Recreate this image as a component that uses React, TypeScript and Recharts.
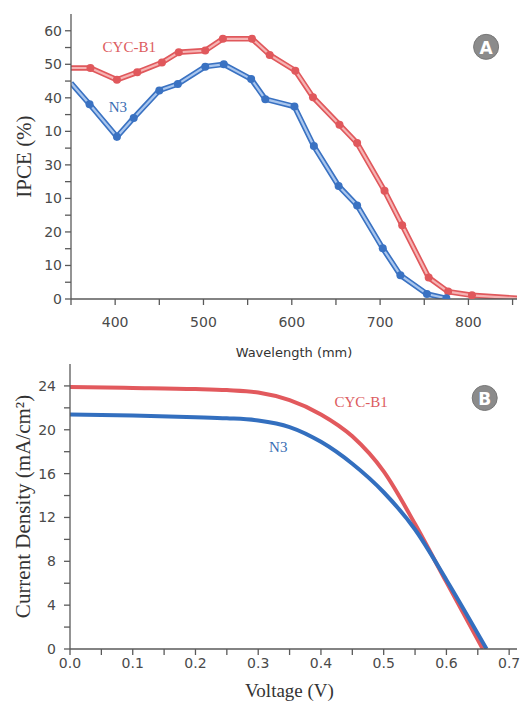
import React from 'react';
import { LineChart, Line, XAxis, YAxis, ReferenceDot, Label } from 'recharts';

// ---------- Panel A : IPCE ----------
const WL_CYC = [350, 372, 402, 425, 453, 472, 502, 522, 555, 575, 604, 624, 654, 674, 705, 725, 755, 777, 804, 855];
const IPCE_CYC = [68.9, 68.9, 65.4, 67.6, 70.5, 73.6, 74.1, 77.6, 77.6, 72.8, 68.1, 60.2, 52.0, 46.5, 32.3, 22.0, 6.4, 2.2, 1.1, 0.2];
const WL_N3 = [350, 371, 402, 421, 450, 471, 502, 523, 554, 570, 603, 625, 653, 674, 703, 723, 753, 775];
const IPCE_N3 = [64.4, 58.1, 48.4, 54.0, 62.2, 64.1, 69.3, 70.0, 65.6, 59.6, 57.4, 45.6, 33.7, 27.9, 15.1, 7.1, 1.5, 0.2];
const WL_TICKS = [350, 400, 450, 500, 550, 600, 650, 700, 750, 800, 850];
const WL_LABELED = [400, 500, 600, 700, 800];
const IPCE_TICKS = [0, 5, 10, 15, 20, 25, 30, 35, 40, 45, 50, 55, 60, 65, 70, 75, 80];
const IPCE_TICK_LABELS = ['0', '10', '20', '10', '30', '10', '40', '50', '60'];

// ---------- Panel B : J-V ----------
const V_CYC = [0, 0.1, 0.2, 0.25, 0.3, 0.35, 0.4, 0.45, 0.5, 0.55, 0.6, 0.658];
const J_CYC = [23.9, 23.82, 23.72, 23.62, 23.4, 22.7, 21.4, 19.4, 16.2, 11.4, 6.1, 0];
const V_N3 = [0, 0.1, 0.2, 0.25, 0.3, 0.35, 0.4, 0.45, 0.5, 0.55, 0.6, 0.664];
const J_N3 = [21.4, 21.3, 21.15, 21.05, 20.85, 20.25, 18.9, 16.9, 14.3, 10.9, 6.3, 0];
const V_TICKS = [0, 0.05, 0.1, 0.15, 0.2, 0.25, 0.3, 0.35, 0.4, 0.45, 0.5, 0.55, 0.6, 0.65, 0.7];
const J_TICKS = [0, 2, 4, 6, 8, 10, 12, 14, 16, 18, 20, 22, 24];

const zip = (xs: number[], ys: number[]) => xs.map((x, i) => ({ x, y: ys[i] }));
const dataCycA = zip(WL_CYC, IPCE_CYC);
const dataN3A = zip(WL_N3, IPCE_N3);
const dataCycB = zip(V_CYC, J_CYC);
const dataN3B = zip(V_N3, J_N3);

const AXIS = '#5a5a5a';
const TICK_FONT = { fill: '#4a4a4a', fontSize: 14, fontFamily: 'DejaVu Sans, sans-serif' };
const SERIF = 'Liberation Serif, Times New Roman, serif';

const RED_DARK = '#e0585c';
const RED_LIGHT = '#f6b4b4';
const BLUE_DARK = '#3a72c2';
const BLUE_LIGHT = '#a9c6ee';

const makeDot = (color: string) => (p: any) => {
  const x = p.payload ? p.payload.x : 0;
  if (x <= 350 || x >= 850) return <g key={`d${p.index}`} />;
  return <circle key={`d${p.index}`} cx={p.cx} cy={p.cy} r={4} fill={color} stroke="none" />;
};

const textShape = (txt: string, color: string, size: number) => (p: any) => (
  <text x={p.cx} y={p.cy} fill={color} fontSize={size} fontFamily={SERIF} textAnchor="middle" dominantBaseline="central">
    {txt}
  </text>
);

const badgeShape = (txt: string) => (p: any) => (
  <g>
    <circle cx={p.cx} cy={p.cy} r={12.5} fill="#8b8b8b" stroke="#777" strokeWidth={1} />
    <text x={p.cx} y={p.cy + 1} fill="#ffffff" fontSize={17} fontWeight="bold" fontFamily="DejaVu Sans, sans-serif" textAnchor="middle" dominantBaseline="central">
      {txt}
    </text>
  </g>
);

const xTitle = (txt: string, dy: number, font: string, size: number, dx = 0) => (props: any) => {
  const vb = props.viewBox || {};
  return (
    <text x={vb.x + vb.width / 2 + dx} y={vb.y + dy} fill="#333" fontSize={size} fontFamily={font} textAnchor="middle" dominantBaseline="central">
      {txt}
    </text>
  );
};

const yTitle = (txt: string, cx: number, size: number) => (props: any) => {
  const vb = props.viewBox || {};
  const cy = vb.y + vb.height / 2;
  return (
    <text x={cx} y={cy} transform={`rotate(-90, ${cx}, ${cy})`} fill="#333" fontSize={size} fontFamily={SERIF} textAnchor="middle" dominantBaseline="central">
      {txt}
    </text>
  );
};

export default function App() {
  return (
    <div style={{ position: 'absolute', left: 0, top: 0, width: 528, height: 702, background: '#fff' }}>
      <div style={{ position: 'absolute', left: 0, top: 0 }}>
        <LineChart width={528} height={362} margin={{ top: 14, right: 11, bottom: 0, left: 0 }}>
          <XAxis
            dataKey="x"
            type="number"
            domain={[350, 855]}
            ticks={WL_TICKS}
            interval={0}
            allowDataOverflow
            height={63}
            tickSize={6}
            tickMargin={12}
            tick={TICK_FONT}
            stroke={AXIS}
            strokeWidth={1.3}
            tickFormatter={(v: number) => (WL_LABELED.includes(v) ? String(v) : '')}
          >
            <Label content={xTitle('Wavelength (mm)', 53, 'DejaVu Sans, sans-serif', 13)} />
          </XAxis>
          <XAxis xAxisId="top" orientation="top" type="number" domain={[350, 855]} height={0} tick={false} tickLine={false} stroke={AXIS} strokeWidth={1.3} />
          <YAxis
            type="number"
            domain={[0, 85]}
            ticks={IPCE_TICKS}
            interval={0}
            allowDataOverflow
            width={71}
            tickSize={6}
            tickMargin={3}
            tick={TICK_FONT}
            stroke={AXIS}
            strokeWidth={1.3}
            tickFormatter={(v: number) => (v % 10 === 0 ? IPCE_TICK_LABELS[v / 10] : '')}
          >
            <Label content={yTitle('IPCE (%)', 24, 21)} />
          </YAxis>
          <YAxis yAxisId="right" orientation="right" type="number" domain={[0, 85]} width={0} tick={false} tickLine={false} stroke={AXIS} strokeWidth={1.3} />
          <Line data={dataCycA} dataKey="y" stroke={RED_DARK} strokeWidth={5.5} dot={false} isAnimationActive={false} />
          <Line data={dataCycA} dataKey="y" stroke={RED_LIGHT} strokeWidth={2.2} dot={makeDot(RED_DARK)} activeDot={false} isAnimationActive={false} />
          <Line data={dataN3A} dataKey="y" stroke={BLUE_DARK} strokeWidth={5.5} dot={false} isAnimationActive={false} />
          <Line data={dataN3A} dataKey="y" stroke={BLUE_LIGHT} strokeWidth={2.2} dot={makeDot(BLUE_DARK)} activeDot={false} isAnimationActive={false} />
          <ReferenceDot x={416} y={75.2} r={0} shape={textShape('CYC-B1', '#dc5b5e', 15)} />
          <ReferenceDot x={403} y={57.3} r={0} shape={textShape('N3', '#3a6db3', 15)} />
          <ReferenceDot x={820} y={75.2} r={0} shape={badgeShape('A')} />
        </LineChart>
      </div>
      <div style={{ position: 'absolute', left: 0, top: 350 }}>
        <LineChart width={528} height={352} margin={{ top: 14, right: 11, bottom: 0, left: 0 }}>
          <XAxis
            dataKey="x"
            type="number"
            domain={[0, 0.7125]}
            ticks={V_TICKS}
            interval={0}
            allowDataOverflow
            height={53}
            tickSize={6}
            tickMargin={3}
            tick={TICK_FONT}
            stroke={AXIS}
            strokeWidth={1.3}
            tickFormatter={(v: number) => (Math.round(v * 100) % 10 === 0 ? v.toFixed(1) : '')}
          >
            <Label content={xTitle('Voltage (V)', 41, SERIF, 19, -4)} />
          </XAxis>
          <XAxis xAxisId="top" orientation="top" type="number" domain={[0, 0.7125]} height={0} tick={false} tickLine={false} stroke={AXIS} strokeWidth={1.3} />
          <YAxis
            type="number"
            domain={[0, 26]}
            ticks={J_TICKS}
            interval={0}
            allowDataOverflow
            width={70}
            tickSize={6}
            tickMargin={8}
            tick={TICK_FONT}
            stroke={AXIS}
            strokeWidth={1.3}
            tickFormatter={(v: number) => (v % 4 === 0 ? String(v) : '')}
          >
            <Label content={yTitle('Current Density (mA/cm²)', 23, 21)} />
          </YAxis>
          <YAxis yAxisId="right" orientation="right" type="number" domain={[0, 26]} width={0} tick={false} tickLine={false} stroke={AXIS} strokeWidth={1.3} />
          <Line data={dataCycB} dataKey="y" type="monotone" stroke="#e2595d" strokeWidth={4} dot={false} activeDot={false} isAnimationActive={false} />
          <Line data={dataN3B} dataKey="y" type="monotone" stroke="#336fbf" strokeWidth={4} dot={false} activeDot={false} isAnimationActive={false} />
          <ReferenceDot x={0.464} y={22.5} r={0} shape={textShape('CYC-B1', '#dc5b5e', 15)} />
          <ReferenceDot x={0.332} y={18.4} r={0} shape={textShape('N3', '#3a6db3', 15)} />
          <ReferenceDot x={0.661} y={22.9} r={0} shape={badgeShape('B')} />
        </LineChart>
      </div>
    </div>
  );
}
